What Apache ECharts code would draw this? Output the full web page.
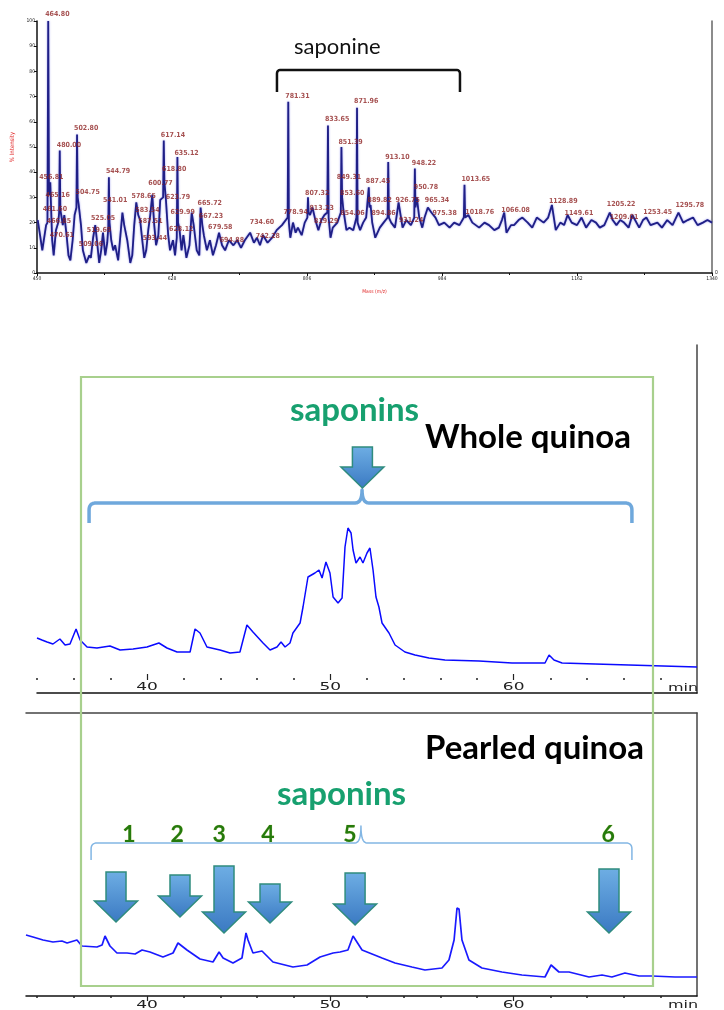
<!DOCTYPE html>
<html>
<head>
<meta charset="utf-8">
<script src="https://cdn.jsdelivr.net/npm/echarts@6/dist/echarts.min.js"></script>
<style>
html,body{margin:0;padding:0;background:#fff;}
#chart{width:724px;height:1010px;}
</style>
</head>
<body>
<div id="chart"></div>
<script>
// ---------- MALDI-TOF spectrum: [m/z, % intensity] ----------
const spectrum = [
[451,21],[454,15],[457,9],[459,13],[462,19],[463.8,20],[464.8,100],[465.8,31],[467.5,36],[469,22],[470,13],[472,7],[475,17],[478,20],[479.2,24],[480,48.6],[480.8,25],[482,23],[484,19],[486,23],[489,15],[491.5,7],[494,5],[497,13],[499.6,23],[502,26],[502.8,55],[503.6,30],[505,27],[508,19],[510.5,9],[515,4],[519,7],[521,6],[524,14],[526.8,19],[529,13],[532,4],[534.6,9],[537,16],[540,7],[542.6,12],[544,18],[544.79,38],[545.6,20],[547.9,13],[550.5,9],[553,11],[557,5],[560,15],[562.6,24],[565,19],[569,13],[573,4],[575.6,7],[578.2,19],[580.9,28],[583.5,23],[586,21],[588.8,13],[591.4,6],[594,9],[596.7,17],[599.3,23],[602,31],[604.6,19],[607,11],[610,15],[612.5,29],[616.3,30],[617.14,52.6],[618,36],[620,29],[623,15],[625.4,9],[629.3,13],[632,7],[634.3,14],[635.12,46],[636,20],[638,17],[640.6,9],[643,15],[647,6],[651,11],[654,24],[656.6,19],[660.6,9],[664,7],[665.72,26],[668,19],[670,15],[674,9],[678,13],[682,7],[686,11],[690,16],[694,11],[698,9],[703,13],[709,11],[714,13],[719,10],[724,13],[731,16],[736,12],[740,14],[744,11],[748,15],[754,12],[760,14],[766,17],[773,19],[780.5,22],[781.31,68],[782.1,20],[784,14],[787.5,20],[791,16],[794,18],[799,15],[803,20],[806.5,22],[807.32,30],[808.1,24],[810,23],[813.23,26],[817,21],[821,17],[825,21],[829,23],[832.8,24],[833.65,58.5],[834.5,22],[837,14],[840,18],[846,20],[850.6,24],[851.39,50],[852.3,30],[854,25],[858,17],[862,18],[867,17],[871.2,22],[871.96,65.6],[872.7,20],[876,17],[880,20],[884,22],[887.45,34],[888.4,26],[889.82,27],[892,20],[896,14],[902,18],[907,20],[912.3,22],[913.1,44],[914,22],[917,20],[922,18],[926.75,28],[932,18],[937,21],[943,19],[947.4,22],[948.22,41.5],[949,26],[950.78,30],[954,22],[958,18],[961,22],[965.34,26],[970,24],[975.38,22],[980,19],[987,20],[994,18],[1000,20],[1007,19],[1012.8,22],[1013.65,35],[1014.5,22],[1018.76,23],[1024,20],[1033,18],[1040,20],[1046,19],[1053,17],[1059,18],[1063,21],[1066.08,24],[1069,16],[1075,19],[1079,19],[1085,21],[1090,22],[1097,20],[1103,18],[1109,22],[1118,20],[1124,22],[1128.89,27],[1134,17],[1140,20],[1145,19],[1149.61,23],[1155,20],[1162,19],[1168,22],[1174,18],[1181,21],[1187,20],[1192,18],[1198,19],[1205.22,24],[1209.01,21],[1214,19],[1219,21],[1224,20],[1230,18],[1235,23],[1244,18],[1249,21],[1253.45,22],[1259,19],[1268,20],[1274,18],[1281,21],[1288,19],[1295.78,24],[1302,20],[1308,21],[1315,22],[1321,19],[1328,20],[1334,21],[1340,20]
];

// labelled peaks (m/z) and the intensity row each label is written at
const peakLabelMz = [464.80,480.00,502.80,456.81,465.16,461.60,466.85,470.61,504.75,544.79,541.01,525.05,519.69,509.06,578.65,583.54,587.51,593.44,600.77,617.14,618.80,635.12,623.79,629.99,628.12,665.72,667.23,679.58,694.88,734.60,742.28,781.31,778.94,807.32,813.23,819.29,833.65,851.39,871.96,849.31,853.60,854.06,887.45,889.82,894.86,913.10,926.75,931.24,948.22,950.78,965.34,975.38,1013.65,1018.76,1066.08,1128.89,1149.61,1205.22,1209.01,1253.45,1295.78];
const peakLabelRow = [102.8,50.8,57.5,38.1,31,25.4,20.6,15.1,32.1,40.5,29,21.8,17,11.5,30.6,25,20.6,13.9,35.7,54.8,41.3,47.6,30.2,24.2,17.5,27.8,22.6,18.3,13.1,20.2,14.7,70.2,24.2,31.7,25.8,20.6,61.1,52,68.3,38.1,31.7,23.8,36.5,29,23.8,46,29,21,43.7,34.1,29,23.8,37.3,24.2,25,28.6,23.8,27.4,22.2,24.2,27];

const mzTicks = [450, 628, 806, 984, 1162, 1340];
const mzMinorTicks = [539, 717, 895, 1073, 1251];
// m/z range covered by the saponin bracket
const saponineRange = [766.4, 1007.7];

// ---------- HPLC chromatograms: [retention time (min), detector response] ----------
const wholeQuinoa = [
[34,27.5],[34.27,26.5],[34.55,25.5],[34.87,24.5],[35.25,27],[35.53,24],[35.8,24.5],[36.13,32],[36.35,26.5],[36.73,23],[37.27,22.5],[37.98,23.5],[38.53,21.5],[39.24,22],[40,23],[40.65,25],[41.09,22.5],[41.64,20.5],[42.35,20.5],[42.62,32],[42.89,30],[43.27,23],[43.98,21.5],[44.53,20],[45.07,20.5],[45.45,34],[45.78,30.5],[46.33,25],[46.71,21.5],[47.09,23],[47.31,25.5],[47.53,23],[47.8,25],[47.96,30],[48.35,35],[48.51,43],[48.78,58],[49.16,60],[49.38,61.5],[49.55,57.5],[49.76,65.5],[49.98,60],[50.15,48],[50.42,45],[50.64,47.5],[50.8,73],[50.96,82.5],[51.13,80],[51.24,71.5],[51.4,65],[51.62,68],[51.78,65],[52,70],[52.16,72.5],[52.33,61.5],[52.49,48],[52.65,43],[52.82,35],[53.2,30],[53.53,24],[54.07,20.5],[54.62,19],[55.38,17.5],[56.25,16.5],[58.11,16],[59.91,15],[61.71,15],[61.93,19],[62.2,16.5],[62.64,15],[64.44,14.5],[66.29,14],[70,13]
];
const pearledQuinoa = [
[33.4,30.5],[33.78,29.5],[34.33,28],[34.87,27],[35.36,27.5],[35.64,26.5],[36.18,28],[36.45,25],[37.27,24.5],[37.55,25.5],[37.71,30],[37.98,25],[38.36,21.5],[38.91,21.5],[39.35,21],[39.73,23],[40.16,22],[40.87,19.5],[41.42,21.5],[41.69,26.5],[42.18,23],[42.89,18.5],[43.6,17],[43.93,22],[44.15,19],[44.69,16.5],[45.18,19],[45.4,31.5],[45.51,28],[45.78,21.5],[46.27,22.5],[46.87,17],[47.96,14.5],[48.73,15.5],[49.44,19.5],[50.15,21.5],[50.53,22],[50.96,23],[51.24,30],[51.73,23],[52.82,19],[53.53,16.5],[54.45,14.5],[55.16,13],[56.09,14],[56.47,18],[56.75,28],[56.91,44],[57.02,43.5],[57.18,28],[57.56,18],[58.27,14],[59.36,12],[60.45,10.5],[61.71,9.5],[62.04,15.5],[62.47,12],[63.02,12],[64.11,9.5],[64.82,10.5],[65.36,9.5],[66.07,11.5],[66.84,10],[67.55,10],[68.8,9.5],[70,9.5]
];

const timeTicks = [40, 50, 60];
const timeMinorTicks = [34,36,38,42,44,46,48,52,54,56,58,62,64,66,68];

// saponin markers: retention time pointed at, and the response level of the arrow tip
const wholeArrowTime = [51.75];
const wholeArrowTip = [102.5];
const wholeBraceSpan = [36.84, 66.45, 51.73];
const pearledArrowTime = [38.31, 41.8, 44.2, 46.71, 51.35, 65.2];
const pearledArrowTip = [37, 39.5, 31.5, 36.5, 35.5, 31.5];
const pearledBraceSpan = [36.95, 66.45, 51.67];
const saponinNumbers = ['1', '2', '3', '4', '5', '6'];
const saponinNumberTime = [39.02, 41.64, 43.93, 46.6, 51.07, 65.15];

// ---------- layout ----------
const wholeArrowLen = [41];
const pearledArrowLen = [50, 42, 67, 39, 52, 64];
const wholeBraceLevel = 95, pearledBraceLevel = 76.5, numberLevel = 80.5, bracketLevel = 80.6;

const SAP_GREEN = '#17a06f';
const NUM_GREEN = '#257a0c';
const chart = echarts.init(document.getElementById('chart'), null, {renderer: 'canvas', width: 724, height: 1010});

function quad(p0, c, p1, n) {
  const pts = [];
  n = n || 8;
  for (let i = 0; i <= n; i++) {
    const t = i / n, u = 1 - t;
    pts.push([u * u * p0[0] + 2 * u * t * c[0] + t * t * p1[0], u * u * p0[1] + 2 * u * t * c[1] + t * t * p1[1]]);
  }
  return pts;
}

function braceRenderer(drop, cusp, r, color, width) {
  return function (params, api) {
    const lv = api.value(3);
    const a = api.coord([api.value(0), lv]);
    const b = api.coord([api.value(1), lv]);
    const c = api.coord([api.value(2), lv]);
    const y = a[1];
    let pts = [[a[0], y + drop]];
    pts = pts.concat(quad([a[0], y + r], [a[0], y], [a[0] + r, y]));
    if (cusp > 0) {
      pts = pts.concat(quad([c[0] - r, y], [c[0], y], [c[0], y - cusp]));
      pts = pts.concat(quad([c[0], y - cusp], [c[0], y], [c[0] + r, y]));
    }
    pts = pts.concat(quad([b[0] - r, y], [b[0], y], [b[0], y + r]));
    pts.push([b[0], y + drop]);
    return {type: 'polyline', shape: {points: pts},
      style: {stroke: color, lineWidth: width, fill: null, lineJoin: 'round', lineCap: 'butt'}};
  };
}

function arrowRenderer(lengths) {
  return function (params, api) {
    const p = api.coord([api.value(0), api.value(1)]);
    const L = lengths[params.dataIndex];
    const sw = 10, hw = 21.5, hl = 21;
    const tx = p[0], ty = p[1], top = ty - L, hy = ty - hl;
    return {
      type: 'polygon',
      shape: {points: [[tx - sw, top], [tx + sw, top], [tx + sw, hy], [tx + hw, hy], [tx, ty], [tx - hw, hy], [tx - sw, hy]]},
      style: {
        fill: new echarts.graphic.LinearGradient(0, 0, 0, 1, [
          {offset: 0, color: '#6eaee4'}, {offset: 1, color: '#3a79c2'}]),
        stroke: '#2f8c7e', lineWidth: 1.5
      }
    };
  };
}

function timeLabelRenderer(dy) {
  return function (params, api) {
    const p = api.coord([api.value(0), 0]);
    return {type: 'text', x: p[0], y: p[1] + dy, scaleX: 1.7,
      style: {text: String(api.value(0)), align: 'center', verticalAlign: 'middle',
        font: '10px "DejaVu Sans"', fill: '#222'}};
  };
}

function numberRenderer(params, api) {
  const p = api.coord([api.value(0), numberLevel]);
  return {type: 'text', x: p[0], y: p[1],
    style: {text: saponinNumbers[params.dataIndex], align: 'center', verticalAlign: 'middle',
      font: 'bold 23px Lato', fill: NUM_GREEN, stroke: 'rgba(214,222,140,0.6)', lineWidth: 0.6}};
}

const noAxis = {axisLine: {show: false}, axisTick: {show: false}, axisLabel: {show: false}, splitLine: {show: false}};
const specAxisLine = {show: true, lineStyle: {color: '#111', width: 1.5}};
const chromLine = {show: true, lineStyle: {color: '#111', width: 1.5}};
const frameLine = {show: true, lineStyle: {color: '#444', width: 1.5}};

const option = {
  animation: false,
  backgroundColor: '#fff',
  grid: [
    {left: 37, top: 21, width: 675, height: 252},
    {left: 37, top: 345, width: 660, height: 348},
    {left: 26, top: 713, width: 671, height: 283}
  ],
  xAxis: [
    // 0: spectrum m/z axis
    {gridIndex: 0, type: 'value', position: 'bottom', min: 450, max: 1340, name: 'Mass (m/z)', nameLocation: 'middle', nameGap: 16,
      nameTextStyle: {color: '#e02525', fontSize: 5, fontFamily: 'DejaVu Sans Condensed'},
      axisLine: specAxisLine, splitLine: {show: false},
      axisTick: {show: true, customValues: mzTicks, length: 3, lineStyle: {color: '#111'}},
      axisLabel: {show: true, customValues: mzTicks, formatter: v => String(v), fontSize: 5, margin: 3, color: '#222', fontFamily: 'DejaVu Sans Condensed'}},
    // 1: spectrum minor ticks
    {gridIndex: 0, type: 'value', position: 'bottom', min: 450, max: 1340, axisLine: {show: false}, splitLine: {show: false},
      axisTick: {show: true, customValues: mzMinorTicks, length: 2, lineStyle: {color: '#111'}}, axisLabel: {show: false}},
    // 2: whole quinoa baseline
    {gridIndex: 1, type: 'value', position: 'bottom', min: 34, max: 70, axisLine: chromLine, axisTick: {show: false}, axisLabel: {show: false}, splitLine: {show: false}},
    // 3: whole quinoa major ticks
    {gridIndex: 1, type: 'value', position: 'bottom', min: 34, max: 70, offset: -13, axisLine: {show: false}, splitLine: {show: false},
      axisLabel: {show: true, customValues: timeTicks, formatter: () => ''},
      axisTick: {show: true, inside: true, customValues: timeTicks, length: 6, lineStyle: {color: '#222', width: 1.2}}},
    // 4: whole quinoa minor ticks
    {gridIndex: 1, type: 'value', position: 'bottom', min: 34, max: 70, offset: -13, axisLine: {show: false}, splitLine: {show: false}, axisLabel: {show: false},
      axisTick: {show: true, inside: true, customValues: timeMinorTicks, length: 2, lineStyle: {color: '#222', width: 1.5}}},
    // 5: pearled quinoa time axis
    {gridIndex: 2, type: 'value', position: 'bottom', min: 33.4, max: 70, axisLine: chromLine, splitLine: {show: false},
      axisLabel: {show: true, customValues: timeTicks, formatter: () => ''},
      axisTick: {show: true, customValues: timeTicks, length: 5, lineStyle: {color: '#222', width: 1.2}}},
    // 6: pearled quinoa minor ticks
    {gridIndex: 2, type: 'value', position: 'bottom', min: 33.4, max: 70, axisLine: {show: false}, splitLine: {show: false}, axisLabel: {show: false},
      axisTick: {show: true, customValues: timeMinorTicks, length: 2, lineStyle: {color: '#222', width: 1.5}}},
    // 7: pearled quinoa frame top
    Object.assign({gridIndex: 2, type: 'value', min: 33.4, max: 70, position: 'top'}, noAxis, {axisLine: frameLine})
  ],
  yAxis: [
    {gridIndex: 0, type: 'value', position: 'left', min: 0, max: 100, interval: 10, name: '% Intensity', nameLocation: 'middle', nameGap: 21,
      nameTextStyle: {color: '#e02525', fontSize: 6, fontFamily: 'DejaVu Sans Condensed'},
      axisLine: specAxisLine, splitLine: {show: false},
      axisTick: {show: true, length: 3, lineStyle: {color: '#111'}},
      axisLabel: {fontSize: 5, margin: 2, color: '#222', fontFamily: 'DejaVu Sans Condensed'}},
    Object.assign({gridIndex: 0, type: 'value', min: 0, max: 100, position: 'right'}, noAxis,
      {axisLine: {show: true, lineStyle: {color: '#666', width: 1.5}},
       axisLabel: {show: true, customValues: [0], fontSize: 5, margin: 3, color: '#222'}}),
    Object.assign({gridIndex: 1, type: 'value', min: 0, max: 174, position: 'right'}, noAxis, {axisLine: frameLine}),
    Object.assign({gridIndex: 2, type: 'value', min: 0, max: 141.5, position: 'right'}, noAxis, {axisLine: frameLine})
  ],
  series: [
    {type: 'line', xAxisIndex: 0, yAxisIndex: 0, data: spectrum, showSymbol: false, symbol: 'none', z: 3,
      lineStyle: {color: '#1f1f86', width: 1.8, shadowColor: 'rgba(100,100,230,0.7)', shadowBlur: 2}},
    {type: 'scatter', xAxisIndex: 0, yAxisIndex: 0, clip: false, symbolSize: 0, z: 5,
      data: peakLabelMz.map((m, i) => ({value: [m, peakLabelRow[i]], name: m.toFixed(2)})),
      label: {show: true, position: 'right', distance: -3, formatter: p => p.name,
        color: '#8e2424', fontSize: 7, fontWeight: 'bold', fontFamily: 'DejaVu Sans Condensed'}},
    {type: 'custom', xAxisIndex: 0, yAxisIndex: 0, z: 6,
      data: [[saponineRange[0], saponineRange[1], (saponineRange[0] + saponineRange[1]) / 2, bracketLevel]],
      renderItem: braceRenderer(22, 0, 4, '#111', 2.5)},

    {type: 'line', xAxisIndex: 2, yAxisIndex: 2, data: wholeQuinoa, showSymbol: false, symbol: 'none',
      lineStyle: {color: '#0a0aff', width: 1.5}},
    {type: 'custom', xAxisIndex: 2, yAxisIndex: 2, z: 6,
      data: [[wholeBraceSpan[0], wholeBraceSpan[1], wholeBraceSpan[2], wholeBraceLevel]],
      renderItem: braceRenderer(20, 13, 7, '#6fa8dc', 3.5)},
    {type: 'custom', xAxisIndex: 2, yAxisIndex: 2, z: 7,
      data: wholeArrowTime.map((t, i) => [t, wholeArrowTip[i]]),
      renderItem: arrowRenderer(wholeArrowLen)},
    {type: 'custom', xAxisIndex: 2, yAxisIndex: 2, z: 6,
      data: timeTicks.map(t => [t, 0]), renderItem: timeLabelRenderer(-6)},

    {type: 'line', xAxisIndex: 5, yAxisIndex: 3, data: pearledQuinoa, showSymbol: false, symbol: 'none',
      lineStyle: {color: '#1a1aff', width: 1.7}},
    {type: 'custom', xAxisIndex: 5, yAxisIndex: 3, z: 6,
      data: [[pearledBraceSpan[0], pearledBraceSpan[1], pearledBraceSpan[2], pearledBraceLevel]],
      renderItem: braceRenderer(17, 17, 6, '#82b6e4', 1.5)},
    {type: 'custom', xAxisIndex: 5, yAxisIndex: 3, z: 7,
      data: pearledArrowTime.map((t, i) => [t, pearledArrowTip[i]]),
      renderItem: arrowRenderer(pearledArrowLen)},
    {type: 'custom', xAxisIndex: 5, yAxisIndex: 3, z: 7,
      data: saponinNumberTime.map(t => [t, numberLevel]), renderItem: numberRenderer},
    {type: 'custom', xAxisIndex: 5, yAxisIndex: 3, z: 6,
      data: timeTicks.map(t => [t, 0]), renderItem: timeLabelRenderer(9)}
  ],
  graphic: [
    {type: 'rect', z: 50, shape: {x: 81, y: 377, width: 572, height: 609},
      style: {fill: 'none', stroke: '#a8d08d', lineWidth: 2.2}},
    {type: 'text', z: 60, x: 294, y: 47, style: {text: 'saponine', font: '22px Lato', fill: '#111', align: 'left', verticalAlign: 'middle'}},
    {type: 'text', z: 60, x: 290, y: 410, style: {text: 'saponins', font: 'bold 33px Lato', fill: SAP_GREEN, align: 'left', verticalAlign: 'middle'}},
    {type: 'text', z: 60, x: 425, y: 437, style: {text: 'Whole quinoa', font: 'bold 33px Lato', fill: '#000', align: 'left', verticalAlign: 'middle'}},
    {type: 'text', z: 60, x: 425, y: 748, style: {text: 'Pearled quinoa', font: 'bold 33px Lato', fill: '#000', align: 'left', verticalAlign: 'middle'}},
    {type: 'text', z: 60, x: 277, y: 794, style: {text: 'saponins', font: 'bold 33px Lato', fill: SAP_GREEN, align: 'left', verticalAlign: 'middle'}},
    {type: 'text', z: 60, x: 668, y: 688, scaleX: 1.6, style: {text: 'min', font: '10px "DejaVu Sans"', fill: '#222', align: 'left', verticalAlign: 'middle'}},
    {type: 'text', z: 60, x: 668, y: 1005, scaleX: 1.6, style: {text: 'min', font: '10px "DejaVu Sans"', fill: '#222', align: 'left', verticalAlign: 'middle'}}
  ]
};
chart.setOption(option);
</script>
</body>
</html>
